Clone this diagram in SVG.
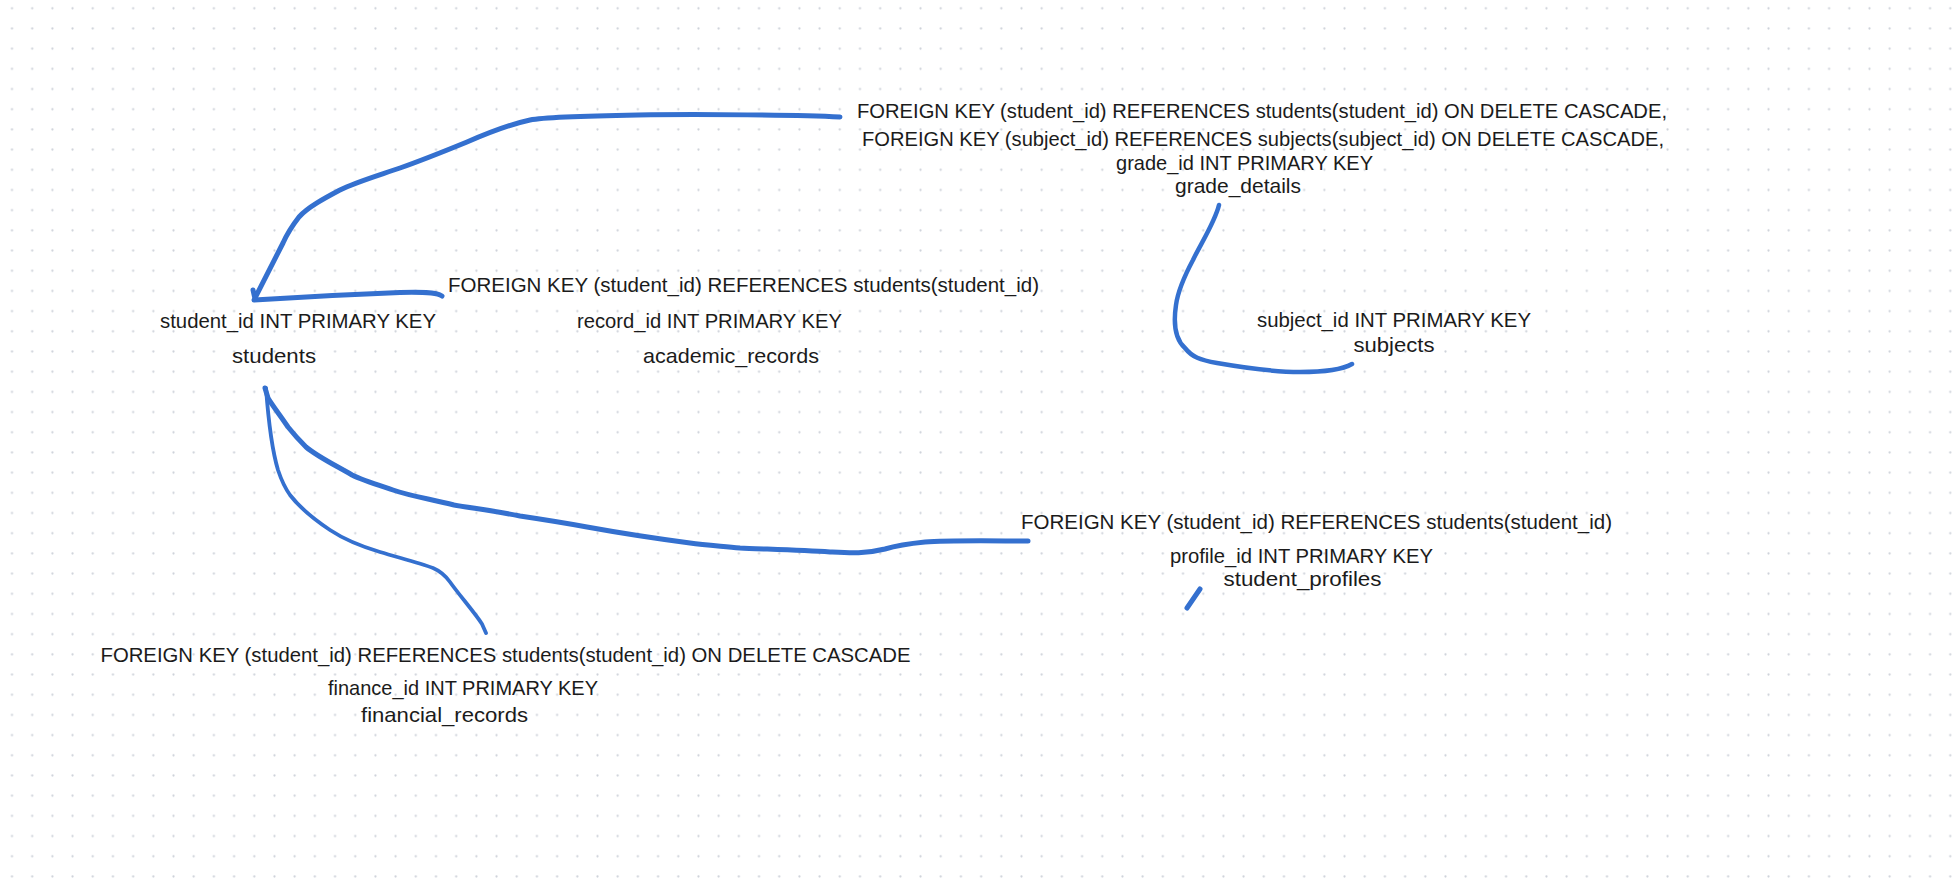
<svg xmlns="http://www.w3.org/2000/svg" width="1958" height="882" viewBox="0 0 1958 882">
<defs>
<pattern id="dots" patternUnits="userSpaceOnUse" x="1.9" y="-1.8" width="20.19" height="20.19">
<circle cx="10.1" cy="10.1" r="1.1" fill="#cdd1d9"/>
</pattern>
</defs>
<style>
text{font-family:"Liberation Sans",Arial,sans-serif;font-size:20.4px;fill:#1b1b1b;text-anchor:middle}
.c{fill:none;stroke:#3470cf;stroke-linecap:round;stroke-linejoin:round}
</style>
<rect width="1958" height="882" fill="#ffffff"/>
<rect width="1958" height="882" fill="url(#dots)"/>
<g id="connectors">
<path class="c" stroke-width="5" d="M840,117 C800,115 700,114 638,115 C580,116 545,117 530,120 C516,123 490,132 467,142 C445,151 420,161 400,168 C380,175 356,182 340,190 C325,198 308,207 299,217 C292,226 287,234 283,243 L255,298 M253,290 L255,299"/>
<path class="c" stroke-width="5" d="M442,296 C436,292 420,292 400,292.5 C360,294 300,297 254,300"/>
<path class="c" stroke-width="4.5" d="M1219,205 C1215,222 1200,245 1193,260 C1185,275 1178,290 1176,305 C1173,325 1176,340 1185,348 C1192,357 1200,360 1217,363 C1240,367 1270,372 1300,372 C1320,372 1340,371 1352,364"/>
<path class="c" stroke-width="5" d="M1028,541 C1000,541 950,540 925,542 C905,544 895,546 885,549 C865,554 850,553 830,552 C800,550 760,549 740,548 C720,546 705,545 690,543 C660,539 620,533 587,527 C560,522 540,519 520,516 C490,510 470,508 454,505 C430,499 410,496 393,490 C375,484 362,480 352,475 C335,465 318,457 306,447 C296,437 292,432 288,427 C280,415 272,405 268,398 L265,388"/>
<path class="c" stroke-width="3.8" d="M266,388 C268,415 272,450 278,470 C282,482 285,488 290,495 C300,508 315,520 330,530 C345,540 360,546 380,552 C400,558 420,563 433,568 C440,571 445,575 450,582 C460,596 475,613 482,624 L486,633"/>
<path class="c" stroke-width="5" d="M1200,589 L1187,608"/>
</g>
<g id="grade_details">
<text x="1262" y="118" textLength="810" lengthAdjust="spacingAndGlyphs">FOREIGN KEY (student_id) REFERENCES students(student_id) ON DELETE CASCADE,</text>
<text x="1263" y="146" textLength="802" lengthAdjust="spacingAndGlyphs">FOREIGN KEY (subject_id) REFERENCES subjects(subject_id) ON DELETE CASCADE,</text>
<text x="1244.5" y="170" textLength="257" lengthAdjust="spacingAndGlyphs">grade_id INT PRIMARY KEY</text>
<text x="1238" y="193" textLength="126" lengthAdjust="spacingAndGlyphs">grade_details</text>
</g>
<g id="academic_records">
<text x="743.5" y="292" textLength="591" lengthAdjust="spacingAndGlyphs">FOREIGN KEY (student_id) REFERENCES students(student_id)</text>
<text x="709.5" y="328" textLength="265" lengthAdjust="spacingAndGlyphs">record_id INT PRIMARY KEY</text>
<text x="731" y="363" textLength="176" lengthAdjust="spacingAndGlyphs">academic_records</text>
</g>
<g id="students">
<text x="298" y="328" textLength="276" lengthAdjust="spacingAndGlyphs">student_id INT PRIMARY KEY</text>
<text x="274" y="363" textLength="84" lengthAdjust="spacingAndGlyphs">students</text>
</g>
<g id="subjects">
<text x="1394" y="327" textLength="274" lengthAdjust="spacingAndGlyphs">subject_id INT PRIMARY KEY</text>
<text x="1394" y="352" textLength="81" lengthAdjust="spacingAndGlyphs">subjects</text>
</g>
<g id="student_profiles">
<text x="1316.5" y="529" textLength="591" lengthAdjust="spacingAndGlyphs">FOREIGN KEY (student_id) REFERENCES students(student_id)</text>
<text x="1301.5" y="563" textLength="263" lengthAdjust="spacingAndGlyphs">profile_id INT PRIMARY KEY</text>
<text x="1302.5" y="586" textLength="158" lengthAdjust="spacingAndGlyphs">student_profiles</text>
</g>
<g id="financial_records">
<text x="505.5" y="662" textLength="810" lengthAdjust="spacingAndGlyphs">FOREIGN KEY (student_id) REFERENCES students(student_id) ON DELETE CASCADE</text>
<text x="463" y="695" textLength="270" lengthAdjust="spacingAndGlyphs">finance_id INT PRIMARY KEY</text>
<text x="444.5" y="722" textLength="167" lengthAdjust="spacingAndGlyphs">financial_records</text>
</g>
</svg>
